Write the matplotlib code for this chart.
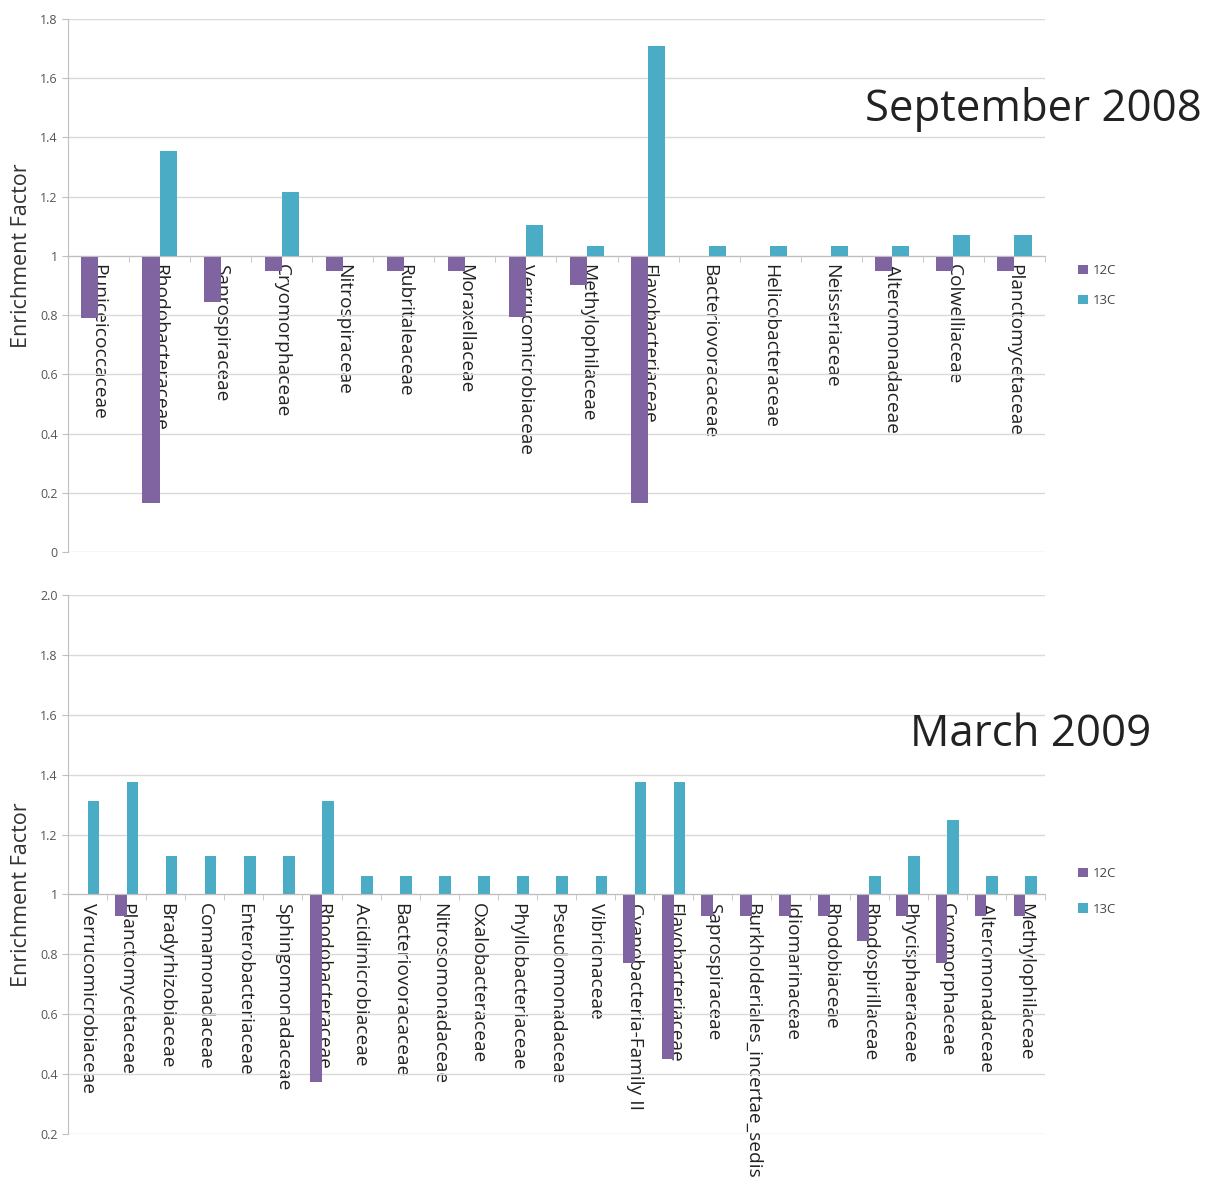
import numpy as np
import matplotlib.pyplot as plt
from matplotlib.ticker import FixedLocator

plt.rcParams['font.family'] = ['Open Sans', 'DejaVu Sans']

PURPLE = '#8064A2'
TEAL = '#4BACC6'
GRID = '#D9D9D9'

# September 2008
sep_families = ['Puniceicoccaceae', 'Rhodobacteraceae', 'Saprospiraceae', 'Cryomorphaceae',
                'Nitrospiraceae', 'Rubritaleaceae', 'Moraxellaceae', 'Verrucomicrobiaceae',
                'Methylophilaceae', 'Flavobacteriaceae', 'Bacteriovoracaceae', 'Helicobacteraceae',
                'Neisseriaceae', 'Alteromonadaceae', 'Colwelliaceae', 'Planctomycetaceae']
sep_12c = [0.79, 0.165, 0.845, 0.95, 0.95, 0.95, 0.95, 0.795, 0.90, 0.165,
           1.0, 1.0, 1.0, 0.95, 0.95, 0.95]
sep_13c = [1.0, 1.355, 1.0, 1.215, 1.0, 1.0, 1.0, 1.105, 1.035, 1.71,
           1.035, 1.035, 1.035, 1.035, 1.07, 1.07]
sep_yticks = [0, 0.2, 0.4, 0.6, 0.8, 1, 1.2, 1.4, 1.6, 1.8]
sep_yticklabels = ['0', '0.2', '0.4', '0.6', '0.8', '1', '1.2', '1.4', '1.6', '1.8']

# March 2009
mar_families = ['Verrucomicrobiaceae', 'Planctomycetaceae', 'Bradyrhizobiaceae', 'Comamonadaceae',
                'Enterobacteriaceae', 'Sphingomonadaceae', 'Rhodobacteraceae', 'Acidimicrobiaceae',
                'Bacteriovoracaceae', 'Nitrosomonadaceae', 'Oxalobacteraceae', 'Phyllobacteriaceae',
                'Pseudomonadaceae', 'Vibrionaceae', 'Cyanobacteria-Family II', 'Flavobacteriaceae',
                'Saprospiraceae', 'Burkholderiales_incertae_sedis', 'Idiomarinaceae', 'Rhodobiaceae',
                'Rhodospirillaceae', 'Phycisphaeraceae', 'Cryomorphaceae', 'Alteromonadaceae',
                'Methylophilaceae']
mar_12c = [1.0, 0.927, 1.0, 1.0, 1.0, 1.0, 0.373, 1.0, 1.0, 1.0, 1.0, 1.0, 1.0, 1.0,
           0.77, 0.45, 0.927, 0.927, 0.927, 0.927, 0.843, 0.927, 0.77, 0.927, 0.927]
mar_13c = [1.313, 1.377, 1.127, 1.127, 1.127, 1.127, 1.313, 1.063, 1.063, 1.063, 1.063,
           1.063, 1.063, 1.063, 1.377, 1.377, 1.0, 1.0, 1.0, 1.0, 1.063, 1.127, 1.25,
           1.063, 1.063]
mar_yticks = [0.2, 0.4, 0.6, 0.8, 1, 1.2, 1.4, 1.6, 1.8, 2.0]
mar_yticklabels = ['0.2', '0.4', '0.6', '0.8', '1', '1.2', '1.4', '1.6', '1.8', '2.0']


def draw_panel(ax, families, v12, v13, yticks, yticklabels, width, label_frac, legend_y, spacing):
    n = len(families)
    x = np.arange(n)
    ax.bar(x - width / 2, np.array(v12) - 1, width=width, bottom=1, color=PURPLE, label='12C')
    ax.bar(x + width / 2, np.array(v13) - 1, width=width, bottom=1, color=TEAL, label='13C')
    ax.set_xlim(-0.5, n - 0.5)
    ax.set_ylim(yticks[0], yticks[-1])
    ax.set_yticks(yticks, yticklabels)
    ax.grid(axis='y', color=GRID, linewidth=1)
    ax.set_axisbelow(True)

    for s in ['top', 'right']:
        ax.spines[s].set_visible(False)
    ax.spines['left'].set_color('#BFBFBF')
    ax.spines['bottom'].set_position(('data', 1))
    ax.spines['bottom'].set_color('#BFBFBF')

    ax.set_xticks(x, families, rotation=-90, fontsize=13.8, color='#222222')
    ax.xaxis.set_minor_locator(FixedLocator(np.arange(n + 1) - 0.5))
    ax.tick_params(axis='x', which='major', length=0, pad=6)
    ax.tick_params(axis='x', which='minor', length=4, color='#BFBFBF')
    ax.tick_params(axis='y', length=4, color='#BFBFBF', labelsize=9, labelcolor='#555555')

    ax.set_ylabel('Enrichment Factor', fontsize=15.5, color='#333333')
    ax.yaxis.set_label_coords(-0.037, label_frac)

    ax.legend(loc='center left', bbox_to_anchor=(1.022, legend_y), frameon=False,
              fontsize=9.5, handlelength=0.7, handleheight=0.7, handletextpad=0.4,
              labelspacing=spacing, labelcolor='#444444')


fig = plt.figure(figsize=(12.05, 12.02), dpi=100)
ax1 = fig.add_axes([0.0564, 0.5408, 0.8108, 0.4434])
ax2 = fig.add_axes([0.0564, 0.0566, 0.8108, 0.4484])

draw_panel(ax1, sep_families, sep_12c, sep_13c, sep_yticks, sep_yticklabels,
           0.28, 1 / 1.8, 0.5, 1.3)
draw_panel(ax2, mar_families, mar_12c, mar_13c, mar_yticks, mar_yticklabels,
           0.3, 0.8 / 1.8, 0.45, 1.7)

fig.text(865 / 1205, 1 - 110 / 1202, 'September 2008', fontsize=31.5, ha='left', va='center',
         color='#222222')
fig.text(910 / 1205, 1 - 735 / 1202, 'March 2009', fontsize=31.5, ha='left', va='center',
         color='#222222')

fig.savefig('out.png', dpi=100)
